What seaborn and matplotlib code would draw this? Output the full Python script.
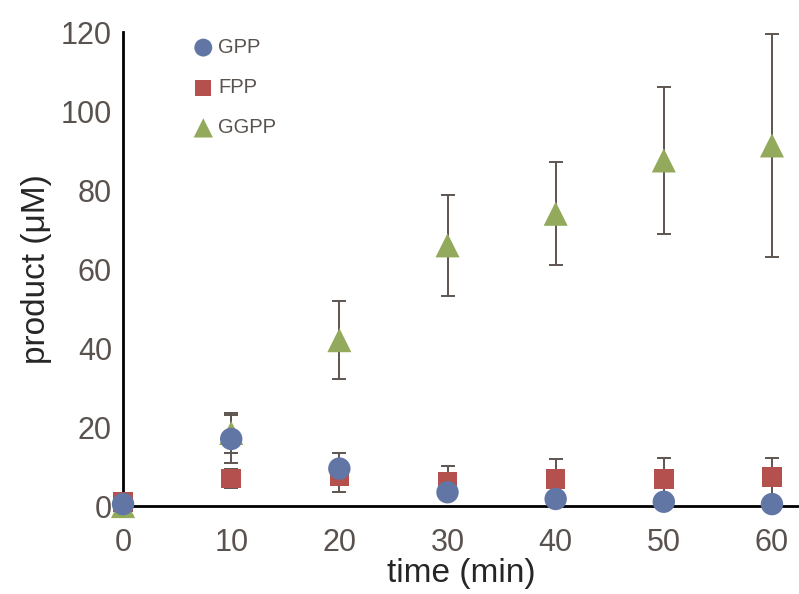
import numpy as np
import pandas as pd
import seaborn as sns
import matplotlib.pyplot as plt

# time points (min)
time = [0, 10, 20, 30, 40, 50, 60]

# product (uM) and error
gpp = [0.5, 17, 9.5, 3.5, 1.8, 1.1, 0.5]
gpp_err = [0, 6, 4, 0, 0, 0, 0]
fpp = [1, 7, 7.5, 6.2, 6.8, 6.8, 7.3]
fpp_err = [0, 2.5, 4, 4, 5, 5.5, 5]
ggpp = [0, 18.5, 42, 66, 74, 87.5, 91.3]
ggpp_err = [0, 5, 9.9, 12.7, 13, 18.5, 28.3]

names = ["GPP", "FPP", "GGPP"]
colors = {"GPP": "#6276a6", "FPP": "#b4504e", "GGPP": "#93aa5c"}
markers = {"GPP": "o", "FPP": "s", "GGPP": "^"}

df = pd.DataFrame({
    "time": time * 3,
    "product": gpp + fpp + ggpp,
    "err": gpp_err + fpp_err + ggpp_err,
    "name": ["GPP"] * 7 + ["FPP"] * 7 + ["GGPP"] * 7,
})

sns.set_style("white")
plt.rcParams['font.family'] = ['Liberation Sans', 'DejaVu Sans']

fig = plt.figure(figsize=(7.99, 5.94), dpi=100)
ax = fig.add_axes([0.154, 0.148, 0.846, 0.798])

# error bars first, below the markers
for n in names:
    d = df[df["name"] == n]
    ax.errorbar(d["time"], d["product"], yerr=d["err"], fmt="none",
                ecolor="#5e5550", elinewidth=1.4, capsize=5, capthick=1.4,
                zorder=1, clip_on=False)

sizes = {"GPP": 260, "FPP": 200, "GGPP": 300}
for n in ["GGPP", "FPP", "GPP"]:
    d = df[df["name"] == n]
    sns.scatterplot(data=d, x="time", y="product", color=colors[n],
                    marker=markers[n], s=sizes[n], edgecolor="none",
                    ax=ax, zorder=3, clip_on=False, label=n)

ax.set_xlim(0, 62.5)
ax.set_ylim(0, 120)
ax.set_xticks(range(0, 61, 10))
ax.set_yticks(range(0, 121, 20))
ax.tick_params(direction="in", length=8, width=2, labelsize=22,
               labelcolor="#5a524e", pad=8, color="black")
ax.tick_params(axis="x", pad=16)
for s in ["top", "right"]:
    ax.spines[s].set_visible(False)
for s in ["left", "bottom"]:
    ax.spines[s].set_color("black")
    ax.spines[s].set_linewidth(2)

ax.set_xlabel("time (min)", fontsize=24, labelpad=0)
ax.set_ylabel("product (\u03bcM)", fontsize=24, labelpad=6)

handles, labels = ax.get_legend_handles_labels()
order = [labels.index(n) for n in names]
leg = ax.legend([handles[i] for i in order], [labels[i] for i in order],
                loc="upper left", bbox_to_anchor=(0.077, 1.026), frameon=False,
                fontsize=14.5, labelspacing=1.05, handlelength=1.0,
                handletextpad=0.25, markerscale=0.8)
for t in leg.get_texts():
    t.set_color("#5a524e")

fig.savefig("out.png", dpi=100)
